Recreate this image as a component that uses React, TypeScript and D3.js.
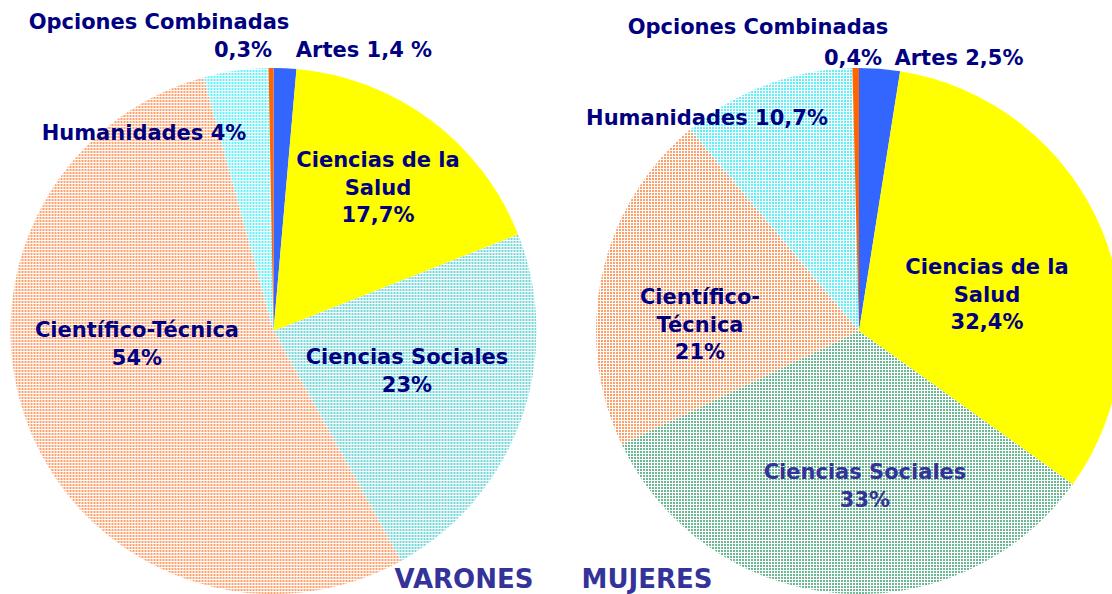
import React from "react";
import * as d3 from "d3";

const categories = ["Artes", "Ciencias de la Salud", "Ciencias Sociales", "Científico-Técnica", "Humanidades", "Opciones Combinadas"];
const varonesValues = [1.4, 17.7, 23, 54, 4, 0.3];
const mujeresValues = [2.5, 32.4, 33, 21, 10.7, 0.4];
const pieTitles = ["VARONES", "MUJERES"];

const varonesFills = ["#3366FF", "#FFFF00", "url(#dotTeal)", "url(#dotOrange)", "url(#dotCyan)", "#FF6600"];
const mujeresFills = ["#3366FF", "#FFFF00", "url(#dotGreen)", "url(#dotOrange)", "url(#dotCyan)", "#FF6600"];

type Lbl = { lines: string[]; x: number; y: number; color?: string };

const varonesLabels: Lbl[] = [
  { lines: ["Opciones Combinadas"], x: 159, y: 22 },
  { lines: ["0,3%"], x: 243, y: 50 },
  { lines: ["Artes 1,4 %"], x: 364, y: 50 },
  { lines: ["Humanidades 4%"], x: 144, y: 133 },
  { lines: ["Ciencias de la", "Salud", "17,7%"], x: 378, y: 160 },
  { lines: ["Científico-Técnica", "54%"], x: 137, y: 330 },
  { lines: ["Ciencias Sociales", "23%"], x: 407, y: 357 },
];
const mujeresLabels: Lbl[] = [
  { lines: ["Opciones Combinadas"], x: 758, y: 27 },
  { lines: ["0,4%"], x: 853, y: 58 },
  { lines: ["Artes 2,5%"], x: 959, y: 58 },
  { lines: ["Humanidades 10,7%"], x: 707, y: 118 },
  { lines: ["Científico-", "Técnica", "21%"], x: 700, y: 297 },
  { lines: ["Ciencias de la", "Salud", "32,4%"], x: 987, y: 267 },
  { lines: ["Ciencias Sociales", "33%"], x: 865, y: 472, color: "#333399" },
];

const R = 263;
const pies = [
  { cx: 273.5, cy: 331, values: varonesValues, fills: varonesFills, labels: varonesLabels, titleX: 464 },
  { cx: 859, cy: 331, values: mujeresValues, fills: mujeresFills, labels: mujeresLabels, titleX: 647 },
];

const pieGen = d3.pie<number>().sort(null).startAngle(0).endAngle(2 * Math.PI);
const arcGen = d3.arc<d3.PieArcDatum<number>>().innerRadius(0).outerRadius(R);

function DotPattern({ id, color }: { id: string; color: string }) {
  return (
    <pattern id={id} width={3} height={3} patternUnits="userSpaceOnUse">
      <rect width={3} height={3} fill="#ffffff" />
      <rect x={0} y={0} width={2} height={2} fill={color} />
    </pattern>
  );
}

export default function App() {
  const font = "'DejaVu Sans', Verdana, sans-serif";
  return (
    <svg width={1112} height={594} style={{ position: "absolute", left: 0, top: 0 }}>
      <defs>
        <DotPattern id="dotTeal" color="#70D8D8" />
        <DotPattern id="dotOrange" color="#FFA06A" />
        <DotPattern id="dotCyan" color="#60F2F8" />
        <DotPattern id="dotGreen" color="#6CB892" />
      </defs>
      <rect width={1112} height={594} fill="#ffffff" />
      {pies.map((p, pi) => (
        <g key={pi} transform={`translate(${p.cx},${p.cy})`}>
          {pieGen(p.values).map((a, i) => (
            <path key={categories[i]} d={arcGen(a) || ""} fill={p.fills[i]} />
          ))}
        </g>
      ))}
      {pies.map((p, pi) =>
        p.labels.map((l, li) => (
          <text key={`${pi}-${li}`} x={l.x} y={l.y} textAnchor="middle" dominantBaseline="central"
            fontFamily={font} fontWeight="bold" fontSize={21} fill={l.color || "#000080"}>
            {l.lines.map((s, k) => (
              <tspan key={k} x={l.x} dy={k === 0 ? 0 : 27.5}>{s}</tspan>
            ))}
          </text>
        ))
      )}
      {pieTitles.map((t, i) => (
        <text key={t} x={pies[i].titleX} y={579} textAnchor="middle" dominantBaseline="central"
          fontFamily={font} fontWeight="bold" fontSize={26} fill="#333399">{t}</text>
      ))}
    </svg>
  );
}
